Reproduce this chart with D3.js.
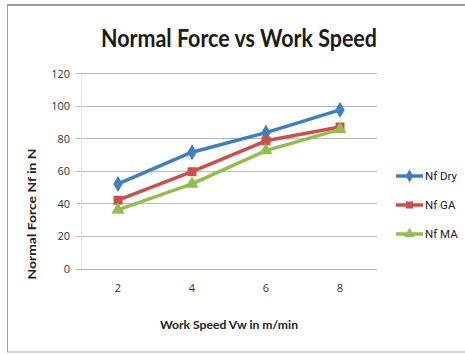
<!DOCTYPE html>
<html>
<head>
<meta charset="utf-8">
<script src="https://cdn.jsdelivr.net/npm/d3@7"></script>
<style>
  html, body { margin: 0; padding: 0; background: #fff; }
  svg { display: block; }
</style>
</head>
<body>
<svg id="chart" width="465" height="354"></svg>
<script>
// Work speed categories (m/min) and normal force readings (N)
const speeds = ["2", "4", "6", "8"];
const nfDry = [52, 71.5, 83.5, 97.5];
const nfGA = [42, 59.5, 78.5, 87];
const nfMA = [36, 52, 72.5, 85.5];
const yTicks = [0, 20, 40, 60, 80, 100, 120];
const seriesNames = ["Nf Dry", "Nf GA", "Nf MA"];
const seriesColors = ["#3f7fc0", "#c9504c", "#94bd4e"];
const seriesMarkers = [d3.symbolDiamond, d3.symbolSquare, d3.symbolTriangle];

const series = [nfDry, nfGA, nfMA].map((values, i) => ({
  name: seriesNames[i], color: seriesColors[i], marker: seriesMarkers[i], values
}));

const svg = d3.select("#chart");

// chart frame
svg.append("rect")
  .attr("x", 7.5).attr("y", 5).attr("width", 470).attr("height", 347)
  .attr("fill", "#fff").attr("stroke", "#a6a6a6").attr("stroke-width", 1);
svg.append("line")
  .attr("x1", 7).attr("x2", 465).attr("y1", 5).attr("y2", 5)
  .attr("stroke", "#9a9a9a").attr("stroke-width", 2);

const plot = { left: 81, right: 377, top: 73.3, bottom: 268.5 };

const x = d3.scaleBand().domain(speeds).range([plot.left, plot.right]);
const y = d3.scaleLinear().domain([0, 120]).range([plot.bottom, plot.top]);

// horizontal gridlines (extending left as tick marks)
svg.append("g").selectAll("line")
  .data(yTicks).join("line")
  .attr("x1", plot.left - 5).attr("x2", plot.right)
  .attr("y1", d => Math.round(y(d)) + 0.5).attr("y2", d => Math.round(y(d)) + 0.5)
  .attr("stroke", "#b9b9b9").attr("stroke-width", 1);

// vertical axis line
svg.append("line")
  .attr("x1", plot.left + 0.5).attr("x2", plot.left + 0.5)
  .attr("y1", plot.top).attr("y2", plot.bottom)
  .attr("stroke", "#e4e4e4").attr("stroke-width", 1);

// y axis labels
const yAxis = d3.axisLeft(y).tickValues(yTicks).tickSize(0).tickPadding(0);
const gy = svg.append("g").attr("transform", `translate(${plot.left - 11},0)`).call(yAxis);
gy.select(".domain").remove();
gy.selectAll("text")
  .attr("font-family", "Open Sans, sans-serif").attr("font-size", 11)
  .attr("fill", "#333").attr("dy", "0.35em");

// x axis labels
const xAxis = d3.axisBottom(x).tickSize(0).tickPadding(0);
const gx = svg.append("g").attr("transform", `translate(0,${plot.bottom + 20})`).call(xAxis);
gx.select(".domain").remove();
gx.selectAll("text")
  .attr("font-family", "Open Sans, sans-serif").attr("font-size", 11)
  .attr("fill", "#333").attr("dy", "0.35em");

// title
svg.append("text")
  .attr("x", 239).attr("y", 47).attr("text-anchor", "middle")
  .attr("font-family", "Lato, sans-serif").attr("font-weight", "bold")
  .attr("font-size", 24).attr("fill", "#1a1a1a")
  .attr("textLength", 276).attr("lengthAdjust", "spacingAndGlyphs")
  .text("Normal Force vs Work Speed");

// axis titles
svg.append("text")
  .attr("x", 229).attr("y", 329).attr("text-anchor", "middle")
  .attr("font-family", "Lato, sans-serif").attr("font-weight", "bold")
  .attr("font-size", 11.5).attr("fill", "#222")
  .attr("textLength", 138).attr("lengthAdjust", "spacingAndGlyphs")
  .text("Work Speed Vw in m/min");

svg.append("text")
  .attr("transform", "translate(36,214) rotate(-90)").attr("text-anchor", "middle")
  .attr("font-family", "Lato, sans-serif").attr("font-weight", "bold")
  .attr("font-size", 11.5).attr("fill", "#222")
  .attr("textLength", 131).attr("lengthAdjust", "spacingAndGlyphs")
  .text("Normal Force Nf in N");

// series lines and markers
const line = d3.line()
  .x((d, i) => x(speeds[i]) + x.bandwidth() / 2)
  .y(d => y(d));

series.forEach(s => {
  svg.append("path")
    .datum(s.values)
    .attr("d", line)
    .attr("fill", "none").attr("stroke", s.color)
    .attr("stroke-width", 3.5).attr("stroke-linejoin", "round");
  svg.append("g").selectAll("path")
    .data(s.values).join("path")
    .attr("transform", (d, i) => `translate(${x(speeds[i]) + x.bandwidth() / 2},${y(d)})`)
    .attr("d", d3.symbol().type(s.marker).size(s.marker === d3.symbolSquare ? 80 : 75))
    .attr("fill", s.color);
});

// legend
const legend = svg.append("g");
series.forEach((s, i) => {
  const ly = 176 + i * 29;
  legend.append("line")
    .attr("x1", 396).attr("x2", 423).attr("y1", ly).attr("y2", ly)
    .attr("stroke", s.color).attr("stroke-width", 3.5);
  legend.append("path")
    .attr("transform", `translate(409.5,${ly})`)
    .attr("d", d3.symbol().type(s.marker).size(50))
    .attr("fill", s.color);
  legend.append("text")
    .attr("x", 425).attr("y", ly).attr("dy", "0.35em")
    .attr("font-family", "Liberation Sans Narrow, Roboto, sans-serif")
    .attr("font-size", 11.5).attr("fill", "#222")
    .text(s.name);
});
</script>
</body>
</html>
